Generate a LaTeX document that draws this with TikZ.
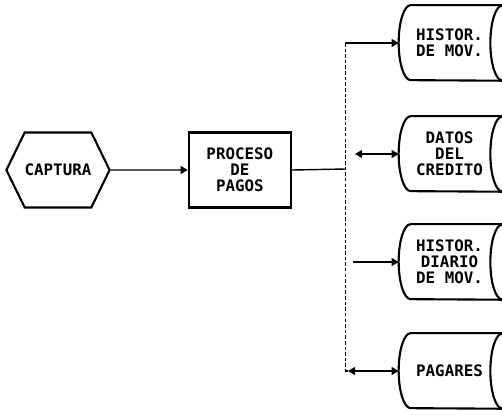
\documentclass[tikz,border=0pt]{standalone}
\usepackage{fontspec}
\newfontfamily\dotfont{DejaVu Sans Mono}
\usetikzlibrary{
    arrows.meta,
    positioning,
    shapes.symbols
}

\begin{document}
\begin{tikzpicture}[
        x=0.02cm, y=-0.02cm,
        inout/.style={signal, signal to=west and east, signal pointer angle=128,
                      draw=black, line width=1.2pt, minimum width=2.04cm,
                      minimum height=1.5cm, inner sep=0pt, align=center,
                      font={\dotfont\bfseries\fontsize{9}{9}\selectfont}},
        proc/.style={rectangle, draw=black, line width=1.2pt, minimum width=2.04cm,
                     minimum height=1.5cm, inner sep=0pt, align=center,
                     font={\dotfont\bfseries\fontsize{9}{9}\selectfont}},
        archivo/.style={rectangle, minimum width=2.02cm, minimum height=1.5cm,
                        inner sep=0pt, align=center,
                        font={\dotfont\bfseries\fontsize{9}{9}\selectfont}},
        borde/.style={line width=1.2pt},
        flecha/.style={-{Triangle[length=4pt,width=4.5pt]}, line width=0.8pt},
        doble/.style={{Triangle[length=4pt,width=4.5pt]}-{Triangle[length=4pt,width=4.5pt]},
                      line width=0.8pt},
        linea/.style={line width=0.8pt},
        bus/.style={line width=0.5pt, dash pattern=on 2pt off 1.2pt},
    ]

    \useasboundingbox (0,0) rectangle (502,414);
    \clip (0,0) rectangle (502,414);

    % Entrada y proceso
    \node[inout] (capt) at (58,170) {CAPTURA};
    \node[proc, right=1.54cm of capt] (pagos) {PROCESO\\DE\\PAGOS};

    % Archivos (lado derecho)
    \node[archivo] (hist)   at (449.5,43)  {HISTOR.\\DE MOV.};
    \node[archivo] (datos)  at (449.5,154) {DATOS\\DEL\\CREDITO};
    \node[archivo] (diario) at (449.5,262) {HISTOR.\\DIARIO\\DE MOV.};
    \node[archivo] (pagare) at (449.5,371) {PAGARES};

    % Contorno de cilindro para cada archivo
    \foreach \n in {hist, datos, diario, pagare} {
        \draw[borde] ([xshift=0.5cm]\n.north east) -- ([xshift=0.24cm]\n.north west)
            arc[start angle=90, end angle=270, x radius=0.24cm, y radius=0.75cm]
            -- ([xshift=0.5cm]\n.south east);
        \draw[borde] ([xshift=0.04cm]\n.east) ellipse[x radius=0.24cm, y radius=0.75cm];
    }

    % Puntos del bus
    \coordinate (bus)    at (345,169);
    \coordinate (bustop) at (345,43);
    \coordinate (busbot) at (345,371);
    \coordinate (d0)     at (355,154);
    \coordinate (h0)     at (353,262);
    \coordinate (p0)     at (348,371);

    % Flechas
    \draw[flecha] (capt) -- (pagos);
    \draw[linea] (pagos.east) -- (bus);
    \draw[bus] (bustop) -- (busbot);
    \draw[flecha] (bustop) -- (hist.west);
    \draw[doble] (d0) -- (datos.west);
    \draw[flecha] (h0) -- (diario.west);
    \draw[linea] (busbot) -- (p0);
    \draw[doble] (p0) -- (pagare.west);

\end{tikzpicture}
\end{document}
